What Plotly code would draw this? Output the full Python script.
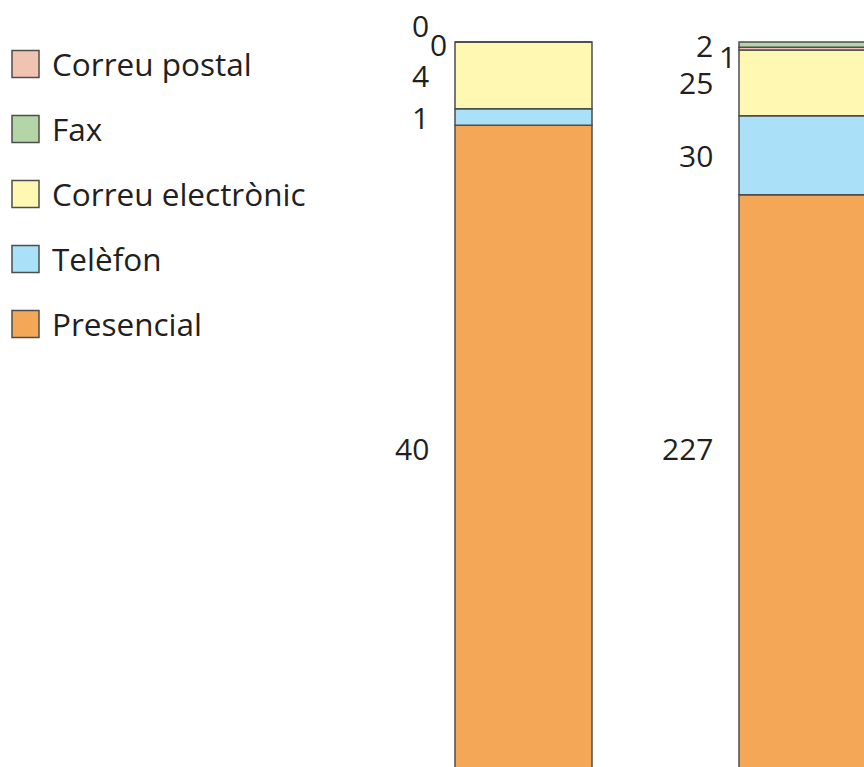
import numpy as np
import plotly.graph_objects as go

# dades
grups = ["Grup A", "Grup B"]
presencial = [40, 227]
telefon = [1, 30]
correu_electronic = [4, 25]
correu_postal = [0, 1]
fax = [0, 2]

# ordre d'apilament (de baix a dalt)
series = [
    ("Presencial", presencial, "#F4A857"),
    ("Telèfon", telefon, "#ABE0F9"),
    ("Correu electrònic", correu_electronic, "#FFF8B2"),
    ("Correu postal", correu_postal, "#F1C4B1"),
    ("Fax", fax, "#B4D6A7"),
]
# ordre de la llegenda (de dalt a baix)
ordre_llegenda = ["Correu postal", "Fax", "Correu electrònic", "Telèfon", "Presencial"]

W, H = 864, 767
PX_PER_PCT = 7.5
PX_PER_UNIT = 284
BAR_W = 137 / PX_PER_UNIT
X0 = 523.5  # centre de la primera barra en píxels
Y_TOP = 42  # 100% en píxels
FONT = "Open Sans"
TXT = "#231F20"

pos = list(range(len(grups)))
totals = np.sum([s[1] for s in series], axis=0)

fig = go.Figure()
base = np.zeros(len(grups))
mids = {}
for nom, vals, col in series:
    pct = np.array(vals) / totals * 100
    fig.add_trace(go.Bar(
        x=pos, y=pct, base=base, name=nom, width=BAR_W,
        marker=dict(color=col, line=dict(color="#4D4D4D", width=1.5)),
        showlegend=False,
    ))
    mids[nom] = base + pct / 2
    base = base + pct

# l'etiqueta del segment gran va a la mateixa alçada a totes dues barres
ETIQ_GRAN_Y = 100 - (448 - Y_TOP) / PX_PER_PCT
for i in pos:
    mids["Presencial"][i] = ETIQ_GRAN_Y

# ajustos de posició per a les etiquetes petites (dx px cap a la dreta, dy px cap amunt)
ajust = {
    ("Fax", 0): (0, 17),
    ("Correu postal", 0): (18, -2),
    ("Fax", 1): (0, -1),
    ("Correu postal", 1): (23, -8),
}

for nom, vals, col in series:
    for i in pos:
        dx, dy = ajust.get((nom, i), (0, 0))
        fig.add_annotation(
            x=i - BAR_W / 2, y=mids[nom][i],
            text=str(vals[i]), showarrow=False,
            xanchor="right", yanchor="middle",
            xshift=-24 + dx, yshift=dy,
            font=dict(family=FONT, size=30, color=TXT),
        )

# llegenda dibuixada a mà
colors = {nom: col for nom, _, col in series}
for k, nom in enumerate(ordre_llegenda):
    cy = 64 + 65 * k
    fig.add_shape(
        type="rect", xref="paper", yref="paper",
        x0=12 / W, x1=39 / W, y0=1 - (cy + 13.5) / H, y1=1 - (cy - 13.5) / H,
        fillcolor=colors[nom], line=dict(color="#4D4D4D", width=1.5),
    )
    fig.add_annotation(
        xref="paper", yref="paper", x=50 / W, y=1 - (cy - 1) / H,
        text=nom, showarrow=False, xanchor="left", yanchor="middle",
        font=dict(family=FONT, size=31.5, color=TXT),
    )

x_lo = -X0 / PX_PER_UNIT
y_hi = 100 + Y_TOP / PX_PER_PCT
fig.update_xaxes(range=[x_lo, x_lo + W / PX_PER_UNIT], visible=False, fixedrange=True)
fig.update_yaxes(range=[y_hi - H / PX_PER_PCT, y_hi], visible=False, fixedrange=True)

fig.update_layout(
    width=W, height=H,
    margin=dict(l=0, r=0, t=0, b=0),
    barmode="overlay",
    plot_bgcolor="#fff",
    paper_bgcolor="#fff",
)

fig.write_html(
    "out.html",
    config={"displayModeBar": False},
    post_script="document.body.style.margin='0px';",
)
